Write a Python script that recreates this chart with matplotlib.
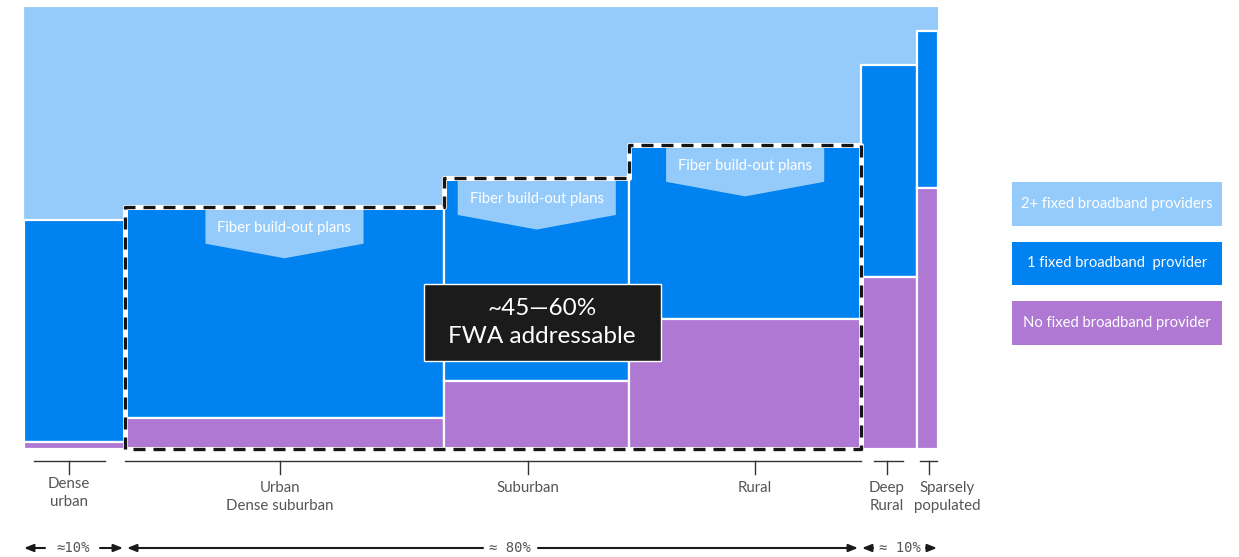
import matplotlib
matplotlib.use("Agg")
import matplotlib.pyplot as plt
import numpy as np
from matplotlib.patches import Rectangle, Polygon

plt.rcParams['font.family'] = ['Lato', 'DejaVu Sans']

# ---------------- data ----------------
categories = ["Dense\nurban", "Urban\nDense suburban", "Suburban", "Rural", "Deep\nRural", "Sparsely\npopulated"]
widths = [11.0, 35.0, 20.2, 25.4, 6.1, 2.3]            # share of population (%)
no_provider = [1.6, 7.0, 15.4, 29.4, 38.9, 59.0]        # % of column
one_provider = [50.2, 47.8, 45.9, 39.4, 48.0, 35.6]     # % of column
series_names = ["2+ fixed broadband providers", "1 fixed broadband  provider", "No fixed broadband provider"]
fiber_label = "Fiber build-out plans"
fwa_label = "~45\u201460%\nFWA addressable"
group_labels = ["\u224810%", "\u2248 80%", "\u2248 10%"]

LIGHT = "#95CBFB"
BLUE = "#0082F0"
PURPLE = "#AF78D2"
DARK = "#1b1b1b"
GREY = "#555555"

W, H = 1239, 557
fig = plt.figure(figsize=(W / 100, H / 100), dpi=100)
ax = fig.add_axes([24 / W, 108 / H, 914 / W, 442 / H])
ax.set_xlim(0, 100)
ax.set_ylim(0, 100)
ax.axis('off')

widths_a = np.array(widths)
lefts = np.concatenate([[0], np.cumsum(widths_a)[:-1]])
centers = lefts + widths_a / 2
p = np.array(no_provider)
b = np.array(one_provider)
light = 100 - p - b

ax.bar(lefts, light, width=widths_a, bottom=p + b, align='edge', color=LIGHT,
       edgecolor=LIGHT, linewidth=0.6, zorder=1)
ax.bar(lefts, b, width=widths_a, bottom=p, align='edge', color=BLUE,
       edgecolor='white', linewidth=1.6, zorder=2)
ax.bar(lefts, p, width=widths_a, align='edge', color=PURPLE,
       edgecolor='white', linewidth=1.6, zorder=2)

# dashed outline around columns 2-4
tops = p + b
xs = [lefts[1], lefts[1], lefts[2], lefts[2], lefts[3], lefts[3], lefts[3] + widths_a[3], lefts[3] + widths_a[3], lefts[1]]
ys = [0, tops[1], tops[1], tops[2], tops[2], tops[3], tops[3], 0, 0]
ax.plot(xs, ys, color='white', lw=3.6, zorder=4, solid_joinstyle='round', clip_on=False)
ax.plot(xs, ys, color='#151515', lw=2.4, ls=(0, (3.6, 2.4)), zorder=5,
        dash_capstyle='butt', clip_on=False)

# fiber build-out arrows
hw, gap, rh, tip = 8.65, 0.45, 7.9, 3.3
for i in (1, 2, 3):
    cx = centers[i]
    top = tops[i] - gap
    poly = Polygon([(cx - hw, top), (cx + hw, top), (cx + hw, top - rh), (cx, top - rh - tip),
                    (cx - hw, top - rh)], closed=True, facecolor=LIGHT, edgecolor='none', zorder=3)
    ax.add_patch(poly)
    ax.text(cx, top - rh / 2 - 0.3, fiber_label, ha='center', va='center', color='white',
            fontsize=10.6, zorder=6)

# FWA box
bx, by, bw, bh = 56.7, 28.6, 25.9, 17.4
ax.add_patch(Rectangle((bx - bw / 2, by - bh / 2), bw, bh, facecolor=DARK, edgecolor='white',
                       lw=1.0, zorder=7))
ax.text(bx, by, fwa_label, ha='center', va='center', color='white', fontsize=17.5,
        linespacing=1.38, zorder=8)

# bottom brackets and labels
ypx = lambda py: (449 - py) / 442 * 100
xpx = lambda px: (px - 24) / 914 * 100
line_kw = dict(color='#333333', lw=1.0, clip_on=False)
brackets = [(34, 105), (124.5, 861), (874, 903), (920, 937)]
for x0, x1 in brackets:
    ax.plot([xpx(x0), xpx(x1)], [ypx(461), ypx(461)], **line_kw)
tick_px = [69, 280, 528, 755, 887, 929]
label_px = [69, 280, 528, 755, 887, 947]
label_y = [477, 481, 481, 481, 481, 481]
for tx, lx, ly, lab in zip(tick_px, label_px, label_y, categories):
    ax.plot([xpx(tx), xpx(tx)], [ypx(461), ypx(474)], **line_kw)
    ax.text(xpx(lx), ypx(ly), lab, ha='center', va='top', color=GREY, fontsize=10.8,
            linespacing=1.32, clip_on=False)

# bottom share arrows
ya = ypx(548)
akw = dict(arrowstyle='-|>,head_length=0.55,head_width=0.22', color='#1a1a1a', lw=1.5,
           shrinkA=0, shrinkB=0)
def arr(x_from, x_to):
    ax.annotate('', xy=(xpx(x_to), ya), xytext=(xpx(x_from), ya), arrowprops=akw,
                annotation_clip=False)
arr(45, 24); arr(100, 123)
arr(483, 127); arr(538, 858)
arr(873, 862); arr(926, 937)
for lx, lab in zip([73, 510, 900], group_labels):
    ax.text(xpx(lx), ya, lab, ha='center', va='center', color=GREY, fontsize=10,
            family=['DejaVu Sans Mono'], clip_on=False)

# legend boxes
colors = [LIGHT, BLUE, PURPLE]
box_y = [(182, 226), (242, 285), (301, 345)]
for (y0, y1), c, name in zip(box_y, colors, series_names):
    fig.add_artist(Rectangle((1012 / W, 1 - y1 / H), 210 / W, (y1 - y0) / H,
                             transform=fig.transFigure, facecolor=c, edgecolor='none'))
    fig.text(1117 / W, 1 - (y0 + y1) / 2 / H, name, ha='center', va='center', color='white',
             fontsize=10.6)

fig.savefig('out.png', dpi=100, facecolor='white')
